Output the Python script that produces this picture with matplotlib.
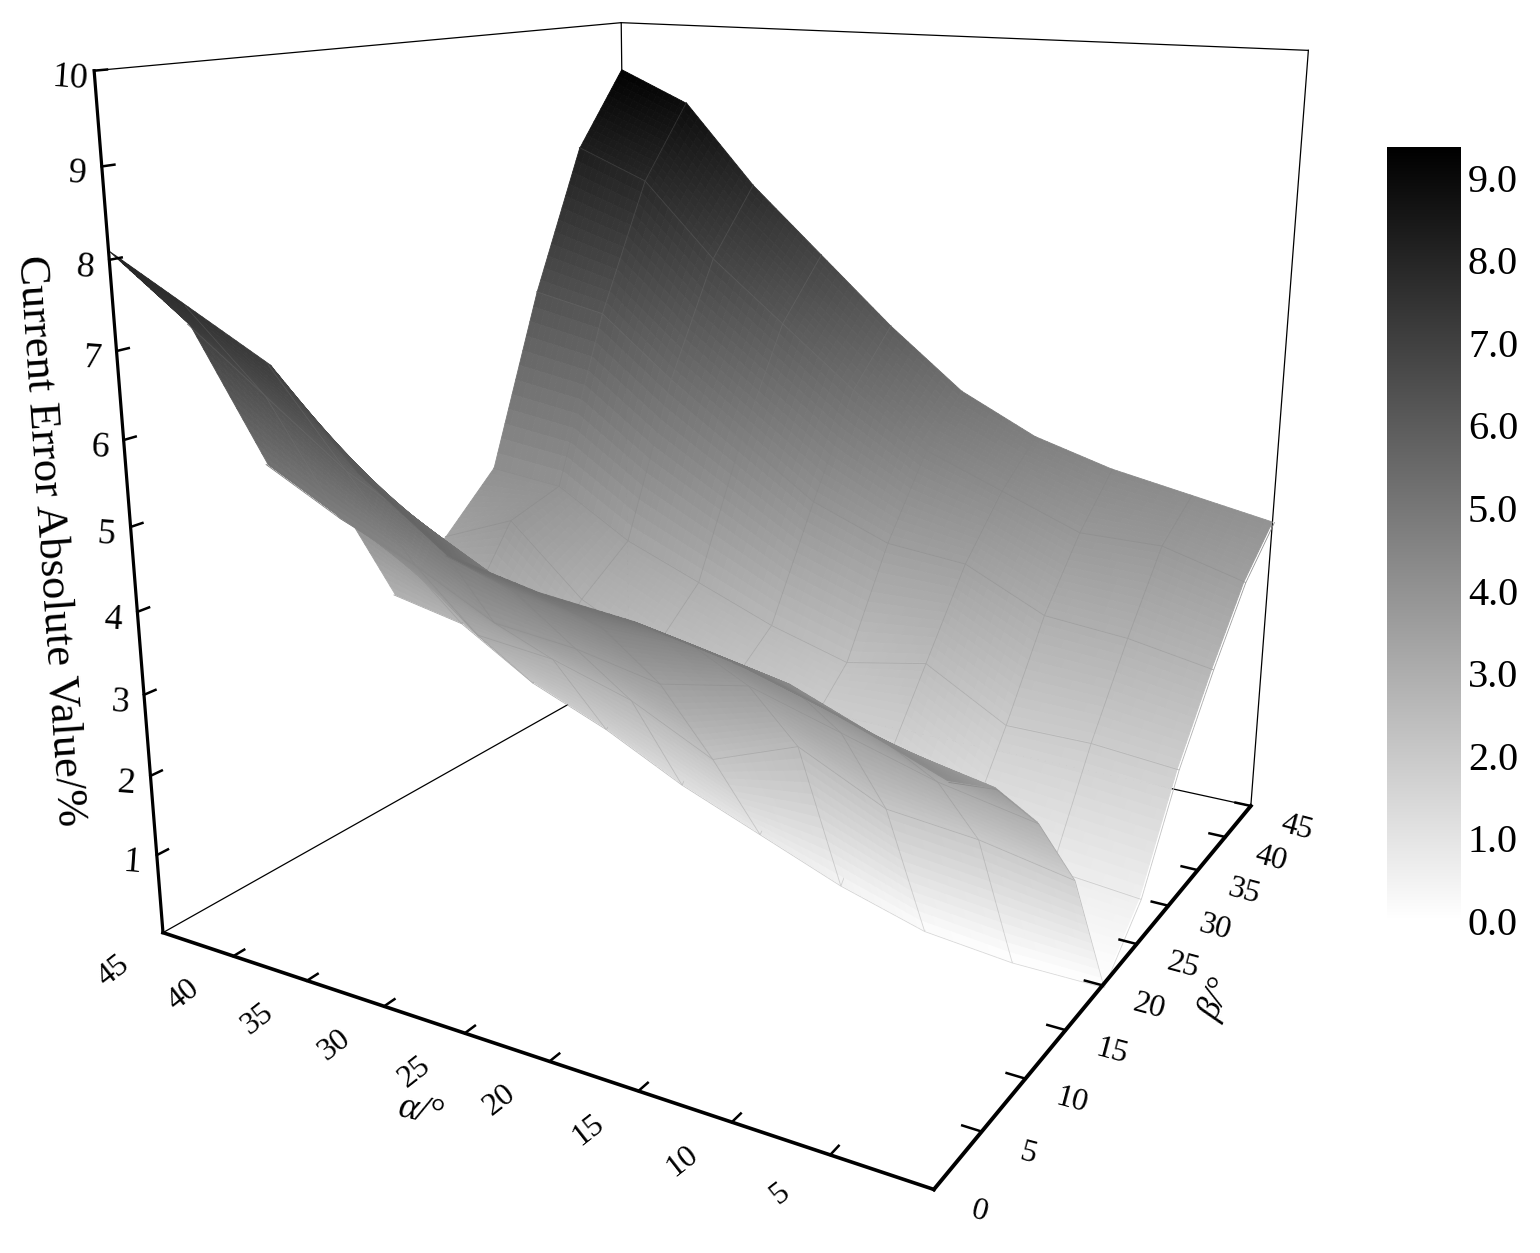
import matplotlib
matplotlib.use('Agg')
import matplotlib.cm as cm
import matplotlib.pyplot as plt
import numpy as np
from matplotlib.colors import LinearSegmentedColormap, Normalize
from mpl_toolkits.mplot3d import proj3d
from mpl_toolkits.mplot3d.art3d import Poly3DCollection

plt.rcParams['font.family'] = ['Liberation Serif', 'DejaVu Serif']

W, H = 1540, 1253

alpha_vals = [45, 40, 35, 30, 25, 20, 15, 10, 5, 0]
beta_vals = [0, 5, 10, 15, 20, 25, 30, 35, 40, 45]
z_ticks = [1, 2, 3, 4, 5, 6, 7, 8, 9, 10]
cbar_ticks = [0.0, 1.0, 2.0, 3.0, 4.0, 5.0, 6.0, 7.0, 8.0, 9.0]
z_max = 10
cbar_max = 9.37

# one row per beta, columns follow alpha_vals
err_beta0 = [8.1, 7.6, 7.1, 6.1, 5.4, 5.2, 5.1, 4.9, 4.6, 4.2]
err_beta5 = [7.1, 6.4, 5.7, 5.2, 4.7, 4.5, 4.5, 4.3, 3.9, 3.7]
err_beta10 = [5.2, 4.7, 4.3, 3.8, 3.7, 3.5, 3.7, 3.4, 3.1, 2.9]
err_beta15 = [4.6, 3.9, 3.1, 3.0, 2.7, 2.2, 2.6, 2.1, 2.0, 1.8]
err_beta20 = [2.9, 2.7, 2.1, 1.7, 1.2, 0.8, 0.4, 0.1, 0.0, 0.0]
err_beta25 = [3.4, 3.8, 2.9, 2.4, 2.1, 1.7, 1.5, 0.9, 0.7, 0.6]
err_beta30 = [4.1, 4.0, 3.4, 3.0, 2.6, 2.3, 2.5, 1.9, 1.9, 1.8]
err_beta35 = [6.4, 6.2, 5.4, 4.7, 4.0, 3.6, 3.5, 3.0, 2.9, 2.7]
err_beta40 = [8.3, 7.9, 6.9, 6.1, 5.3, 4.6, 4.2, 3.8, 3.8, 3.5]
err_beta45 = [9.33, 8.9, 7.8, 6.9, 6.0, 5.2, 4.7, 4.4, 4.2, 4.0]
err = np.array([err_beta0, err_beta5, err_beta10, err_beta15, err_beta20,
                err_beta25, err_beta30, err_beta35, err_beta40, err_beta45])

gray = LinearSegmentedColormap.from_list('white_black', ['white', 'black'])
norm = Normalize(0, cbar_max)


def surface_quads(n=12):
    # each mesh cell is cut into n x n flat pieces so the grey runs smoothly with height
    al = np.array(alpha_vals, float)
    be = np.array(beta_vals, float)
    t = np.linspace(0, 1, n + 1)
    quads = []

    def point(i, j, tb, ta):
        z = ((1 - tb) * (1 - ta) * err[i, j] + (1 - tb) * ta * err[i, j + 1]
             + tb * (1 - ta) * err[i + 1, j] + tb * ta * err[i + 1, j + 1])
        return (be[i] + tb * (be[i + 1] - be[i]), al[j] + ta * (al[j + 1] - al[j]), z)

    for i in range(len(be) - 1):
        for j in range(len(al) - 1):
            for a in range(n):
                for b in range(n):
                    quads.append([point(i, j, t[a], t[b]), point(i, j, t[a + 1], t[b]),
                                  point(i, j, t[a + 1], t[b + 1]), point(i, j, t[a], t[b + 1])])
    return quads


def mesh_segments(n=12):
    # the faint mesh lines, as flat quads so they are depth sorted with the surface.
    # outer edges stay bare, apart from the light alpha=0 side
    shift = np.array([-0.42, -0.24, 0.03])
    segs = []
    for i, b in enumerate(beta_vals[1:-1], start=1):
        for j in range(len(alpha_vals) - 1):
            for k in range(n):
                t0, t1 = k / n, (k + 1) / n
                a0 = alpha_vals[j] + t0 * (alpha_vals[j + 1] - alpha_vals[j])
                a1 = alpha_vals[j] + t1 * (alpha_vals[j + 1] - alpha_vals[j])
                z0 = err[i, j] + t0 * (err[i, j + 1] - err[i, j])
                z1 = err[i, j] + t1 * (err[i, j + 1] - err[i, j])
                p0, p1 = np.array((b, a0, z0)) + shift, np.array((b, a1, z1)) + shift
                segs.append([p0, p1, p1, p0])
    for j, a in enumerate(alpha_vals[1:], start=1):
        for i in range(len(beta_vals) - 1):
            for k in range(n):
                t0, t1 = k / n, (k + 1) / n
                b0 = beta_vals[i] + t0 * (beta_vals[i + 1] - beta_vals[i])
                b1 = beta_vals[i] + t1 * (beta_vals[i + 1] - beta_vals[i])
                z0 = err[i, j] + t0 * (err[i + 1, j] - err[i, j])
                z1 = err[i, j] + t1 * (err[i + 1, j] - err[i, j])
                p0, p1 = np.array((b0, a, z0)) + shift, np.array((b1, a, z1)) + shift
                segs.append([p0, p1, p1, p0])
    return segs


fig = plt.figure(figsize=(W / 100, H / 100), dpi=100)
ax = fig.add_axes([23.6 / W, 47.3 / H, 1404.7 / W, 1404.7 / H], projection='3d', computed_zorder=False)
ax.set_axis_off()
ax.patch.set_alpha(0)
ax.view_init(elev=15.844, azim=-149.969, roll=-0.234)
ax.set_proj_type('persp', focal_length=0.275)
ax.set_box_aspect((1.003, 1.0, 1.0))

a_far, b_far = max(alpha_vals), max(beta_vals)

# back of the box, behind the surface
back = [([0, b_far], [a_far, a_far], [0, 0]),
        ([b_far, b_far], [a_far, 0], [0, 0]),
        ([b_far, b_far], [a_far, a_far], [0, z_max]),
        ([0, b_far], [a_far, a_far], [z_max, z_max]),
        ([b_far, b_far], [a_far, 0], [z_max, z_max]),
        ([b_far, b_far], [0, 0], [0, z_max])]
for xs, ys, zs in back:
    ax.plot(xs, ys, zs, color='black', lw=0.9, zorder=1)

quads = surface_quads()
segs = mesh_segments()
face = [gray(norm(np.mean([p[2] for p in q]))) for q in quads]
line = []
for s in segs:
    c = np.array(gray(norm(np.mean([p[2] for p in s]))))
    c[:3] = c[:3] + (0.5 - c[:3]) * 0.3
    line.append(tuple(c))
surf = Poly3DCollection(quads + segs, facecolors=face + line, edgecolors=face + line, linewidths=0.6, zorder=2)
ax.add_collection3d(surf)

# heavy axes and ticks in front
ax.plot([0, 0], [a_far, a_far], [0, z_max], color='black', lw=2.3, zorder=3, solid_capstyle='projecting')
ax.plot([0, 0], [a_far, 0], [0, 0], color='black', lw=2.6, zorder=3, solid_capstyle='projecting')
ax.plot([0, b_far], [0, 0], [0, 0], color='black', lw=2.8, zorder=3, solid_capstyle='projecting')
for a in alpha_vals[1:-1]:
    ax.plot([0, 0.8], [a, a], [0, 0], color='black', lw=1.8, zorder=3)
for b in beta_vals[1:]:
    ax.plot([b, b], [0, 0.95], [0, 0], color='black', lw=1.8, zorder=3)
for z in z_ticks:
    ax.plot([0, 0.8], [a_far, a_far], [z, z], color='black', lw=1.8, zorder=3)

ax.set_xlim(0, b_far, view_margin=0)
ax.set_ylim(0, a_far, view_margin=0)
ax.set_zlim(0, z_max, view_margin=0)

M = ax.get_proj()


def label(x, y, z, text, dx, dy, **kw):
    u, v, _ = proj3d.proj_transform(x, y, z, M)
    ax.annotate(text, xy=(u, v), xytext=(dx, dy), textcoords='offset pixels',
                ha='center', va='center', rotation_mode='anchor', annotation_clip=False, zorder=4, **kw)


for a in alpha_vals[:-1]:
    label(0, a, 0, str(a), -50, -39, fontsize=23, rotation=38)
for b in beta_vals:
    label(b, 0, 0, str(b), 46, -22, fontsize=23, rotation=-15)
for z in z_ticks:
    label(0, a_far, z, str(z), -24, -8, fontsize=26, rotation=-4)

fig.text(50 / W, 1 - 541 / H, 'Current Error Absolute Value/%', fontsize=32, rotation=-86,
         ha='center', va='center', rotation_mode='anchor')
fig.text(421 / W, 1 - 1112 / H, '\u03b1/\u00b0', fontsize=27, style='italic', rotation=-12,
         ha='center', va='center', rotation_mode='anchor')
fig.text(1217 / W, 1 - 1000 / H, '\u03b2/\u00b0', fontsize=25, style='italic', rotation=65,
         ha='center', va='center', rotation_mode='anchor')

cax = fig.add_axes([1387 / W, 1 - 921 / H, 74 / W, (921 - 147) / H])
sm = cm.ScalarMappable(norm=norm, cmap=gray)
cb = fig.colorbar(sm, cax=cax, ticks=cbar_ticks, format='%.1f')
cb.outline.set_visible(False)
cb.ax.tick_params(length=0, pad=5, labelsize=29)

fig.savefig('out.png', dpi=100)
